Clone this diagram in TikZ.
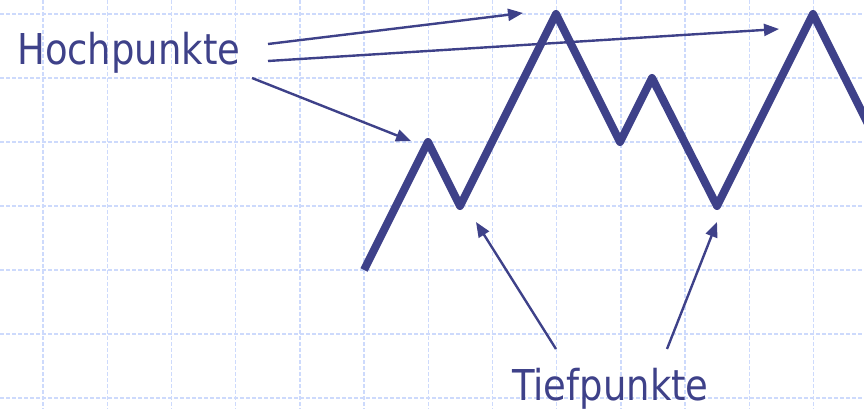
\documentclass[tikz,border=0pt]{standalone}
\usepackage{fontspec}
\setmainfont{DejaVu Sans}[FakeStretch=0.87]
\usetikzlibrary{arrows.meta}
\definecolor{ZZNavy}{RGB}{62,65,137}
\definecolor{ZZGrid}{RGB}{205,218,252}

\begin{document}
\begin{tikzpicture}[x=1pt, y=-1pt,
    gridline/.style={draw=ZZGrid, line width=1.4pt, dash pattern=on 4pt off 2pt},
    zigzag/.style={draw=ZZNavy, line width=8pt, line join=round},
    lbl/.style={text=ZZNavy, font=\fontsize{42.5}{50}\selectfont, inner sep=0pt},
    arr/.style={-{Triangle[length=15pt, width=12pt]}, draw=ZZNavy, fill=ZZNavy, line width=2.4pt}
  ]
  \useasboundingbox (0,0) rectangle (864,409);

  % grid
  \foreach \i in {0,...,12}
    \draw[gridline] ({43+64.2*\i},0) -- ({43+64.2*\i},409);
  \foreach \j in {0,...,6}
    \draw[gridline] (0,{14+64*\j}) -- (864,{14+64*\j});

  % curve
  \draw[zigzag] (364,270) -- (428,142) -- (460,206) -- (556,14) -- (620,142)
    -- (652,78) -- (717,206) -- (813,14) -- (880,148);

  % labels
  \node[lbl, anchor=base west] (hoch) at (17,65) {Hochpunkte};
  \node[lbl, anchor=base west] (tief) at (512,400) {Tiefpunkte};

  % arrow ends
  \coordinate (hA) at (268,44);
  \coordinate (hB) at (268,61);
  \coordinate (hC) at (252,78);
  \coordinate (tA) at (556,349);
  \coordinate (tB) at (667,349);
  \coordinate (max1) at (523,13);
  \coordinate (max2) at (779,29);
  \coordinate (max3) at (411,141);
  \coordinate (min1) at (476,222);
  \coordinate (min2) at (717,222);

  \draw[arr] (hA) -- (max1);
  \draw[arr] (hB) -- (max2);
  \draw[arr] (hC) -- (max3);
  \draw[arr] (tA) -- (min1);
  \draw[arr] (tB) -- (min2);
\end{tikzpicture}
\end{document}
